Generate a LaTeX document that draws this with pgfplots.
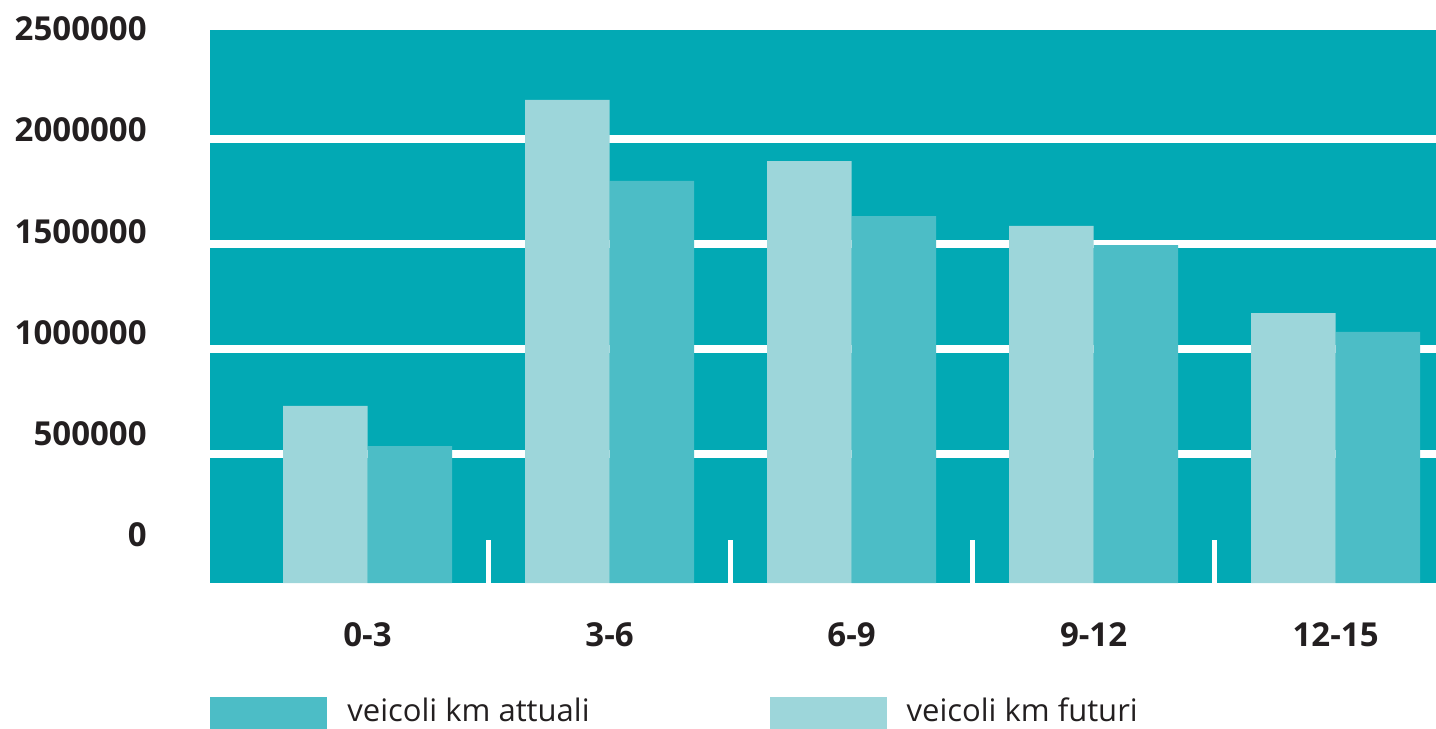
\documentclass[border=0pt]{standalone}
\usepackage{fontspec}
\setmainfont{Open Sans}
\usepackage{pgfplots}
\usepackage{pgfplotstable}
\pgfplotsset{compat=1.18}

\definecolor{bgteal}{RGB}{2,169,180}
\definecolor{futuri}{RGB}{157,214,218}
\definecolor{attuali}{RGB}{76,189,198}
\definecolor{txt}{RGB}{35,31,32}

% veicoli km per fascia
\pgfplotstableread{
x attuali futuri
0 538000 729000
1 1800000 2186000
2 1633000 1895000
3 1495000 1586000
4 1081000 1171000
}\vkm

\pgfplotsset{
  legbox/.style={legend image code/.code={\fill[##1] (0pt,-10pt) rectangle (58.5pt,7pt);}},
  numfont/.style={font=\fontsize{16.5}{20}\selectfont\bfseries, text=txt},
}

\begin{document}
\begin{tikzpicture}
\begin{axis}[
  name=main,
  width=613pt, height=276.5pt, scale only axis,
  xmin=-0.651, xmax=4.415,
  ymin=-114300, ymax=2519000,
  % bars start at the bottom edge, as in the original
  y coord trafo/.code={\pgfkeys{/pgf/fpu=true,/pgf/fpu/output format=fixed}\pgfmathparse{#1+114300}\pgfkeys{/pgf/fpu=false}},
  y coord inv trafo/.code={\pgfkeys{/pgf/fpu=true,/pgf/fpu/output format=fixed}\pgfmathparse{#1-114300}\pgfkeys{/pgf/fpu=false}},
  axis background/.style={fill=bgteal},
  axis line style={draw=none},
  ybar, bar width=0.349,
  xtick={0,...,4},
  xticklabels={0-3,3-6,6-9,9-12,12-15},
  minor xtick={0.5,1.5,2.5,3.5},
  xtick pos=bottom, ytick pos=left,
  tick align=inside,
  major tick length=0pt,
  minor tick length=21.5pt,
  minor tick style={white, line width=2.75pt},
  ytick={500000,1000000,1500000,2000000},
  yticklabels={,,,},
  scaled y ticks=false,
  ymajorgrids,
  major grid style={white, line width=4pt},
  xticklabel style={numfont, inner sep=0pt, anchor=north},
  xticklabel shift=19.5pt,
  legend columns=2,
  legend style={at={(0,0)}, anchor=north west, yshift=-57pt,
    draw=none, fill=none, inner sep=0pt,
    font=\fontsize{15.5}{18}\selectfont, text=txt,
    nodes={inner sep=0pt},
    /tikz/every odd column/.append style={column sep=10pt},
    /tikz/every even column/.append style={column sep=90pt}},
]
\addplot[fill=attuali, draw=none, bar shift=0.1745, legbox] table[x=x, y=attuali] {\vkm};
\addplot[fill=futuri, draw=none, bar shift=-0.1745, legbox] table[x=x, y=futuri] {\vkm};
\legend{veicoli km attuali, veicoli km futuri}
\end{axis}

% tick numbers sit on their own scale in the original
\begin{axis}[
  at={(main.south west)}, anchor=south west,
  width=613pt, height=277.8pt, scale only axis,
  xmin=0, xmax=1, ymin=-237000, ymax=2506500,
  axis line style={draw=none},
  xtick=\empty,
  ytick={0,500000,1000000,1500000,2000000,2500000},
  yticklabels={0,500000,1000000,1500000,2000000,2500000},
  scaled y ticks=false,
  ytick pos=left, major tick length=0pt,
  yticklabel style={numfont, inner sep=0pt},
  yticklabel shift=31.5pt,
]
\end{axis}

\pgfresetboundingbox
\path[use as bounding box] ([xshift=-105pt,yshift=-72.5pt]main.south west) rectangle ([yshift=15pt]main.north east);
\end{tikzpicture}
\end{document}
